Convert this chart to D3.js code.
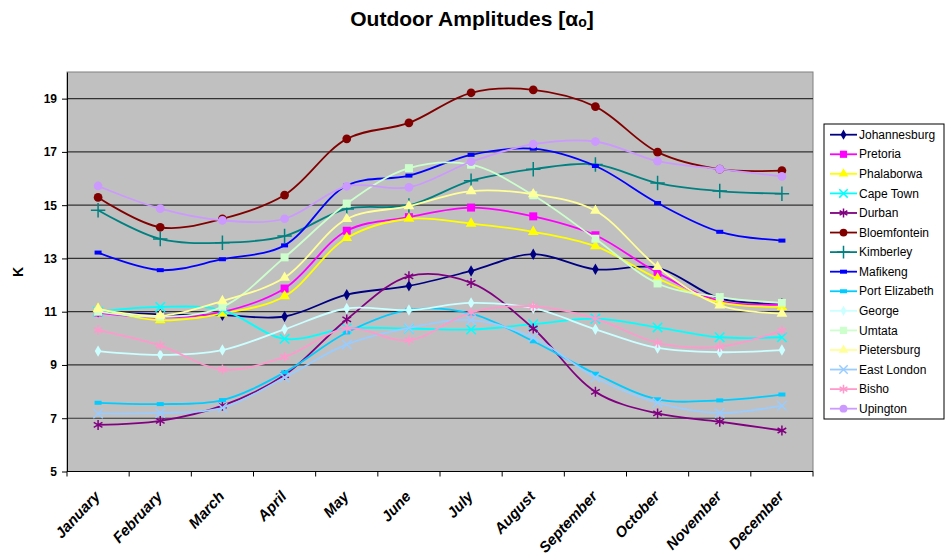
<!DOCTYPE html>
<html><head><meta charset="utf-8">
<script src="https://cdn.jsdelivr.net/npm/d3@7"></script>
<style>body{margin:0;background:#fff}svg{display:block;font-family:"Liberation Sans",Arial,sans-serif}</style>
</head><body>
<svg id="c" width="945" height="557"></svg>
<script>
const months = ["January","February","March","April","May","June","July","August","September","October","November","December"];
const cities = ["Johannesburg","Pretoria","Phalaborwa","Cape Town","Durban","Bloemfontein","Kimberley","Mafikeng","Port Elizabeth","George","Umtata","Pietersburg","East London","Bisho","Upington"];
const colors = ["#000080","#FF00FF","#FFFF00","#00FFFF","#800080","#800000","#008080","#0000FF","#00CCFF","#CCFFFF","#CCFFCC","#FFFF99","#99CCFF","#FF99CC","#CC99FF"];
const markers = ["diamond","square","triangle","x","asterisk","circle","plus","dash","dash","diamond","square","triangle","x","asterisk","circle"];
const johannesburg = [11.0,10.9,10.87,10.82,11.64,11.97,12.53,13.16,12.59,12.65,11.5,11.3];
const pretoria = [10.97,10.78,10.99,11.87,14.04,14.55,14.91,14.58,13.87,12.46,11.40,11.27];
const phalaborwa = [11.12,10.68,10.93,11.58,13.77,14.49,14.31,14.0,13.46,12.25,11.35,11.18];
const capeTown = [11.0,11.18,11.06,9.98,10.37,10.37,10.33,10.53,10.74,10.41,10.04,10.04];
const durban = [6.75,6.90,7.47,8.62,10.71,12.33,12.08,10.37,7.99,7.18,6.87,6.54];
const bloemfontein = [15.29,14.17,14.49,15.38,17.49,18.09,19.22,19.33,18.70,16.99,16.35,16.30];
const kimberley = [14.81,13.73,13.59,13.84,14.86,14.99,15.92,16.35,16.53,15.83,15.53,15.43];
const mafikeng = [13.22,12.56,12.97,13.49,15.74,16.11,16.89,17.12,16.47,15.08,14.0,13.67];
const portElizabeth = [7.58,7.53,7.68,8.72,10.22,11.07,10.93,9.89,8.67,7.71,7.67,7.89];
const george = [9.52,9.38,9.56,10.34,11.12,11.06,11.33,11.13,10.34,9.64,9.48,9.56];
const umtata = [11.0,10.8,11.18,13.04,15.06,16.39,16.52,15.37,13.74,12.06,11.55,11.33];
const pietersburg = [11.1,10.85,11.4,12.28,14.48,14.96,15.53,15.41,14.79,12.68,11.24,10.93];
const eastLondon = [7.18,7.2,7.39,8.53,9.77,10.39,10.68,10.03,8.53,7.58,7.2,7.47];
const bisho = [10.31,9.73,8.83,9.30,10.37,9.93,10.97,11.2,10.74,9.83,9.68,10.29];
const upington = [15.72,14.87,14.43,14.49,15.71,15.67,16.63,17.29,17.39,16.65,16.35,16.08];
const series = [johannesburg,pretoria,phalaborwa,capeTown,durban,bloemfontein,kimberley,mafikeng,portElizabeth,george,umtata,pietersburg,eastLondon,bisho,upington];
const yTicks = [5,7,9,11,13,15,17,19];

const svg = d3.select("#c");
const L=67,R=813,T=72,B=471.5;
const x = d3.scaleBand().domain(months).range([L,R]).padding(0);
const xc = m => x(m)+x.bandwidth()/2;
const y = d3.scaleLinear().domain([5,20]).range([B,T]);

svg.append("rect").attr("x",L).attr("y",T).attr("width",R-L).attr("height",B-T).attr("fill","#C0C0C0").attr("stroke","#808080").attr("stroke-width",1);
svg.selectAll(".grid").data(yTicks.filter(d=>d>5)).join("line")
  .attr("x1",L).attr("x2",R).attr("y1",d=>y(d)).attr("y2",d=>y(d)).attr("stroke","#333").attr("stroke-width",1.2);

// y axis
const ya = svg.append("g").attr("transform",`translate(${L},0)`).call(d3.axisLeft(y).tickValues(yTicks).tickSize(5).tickSizeOuter(0));
ya.select(".domain").attr("stroke","#000");
ya.selectAll("text").attr("font-size",12).attr("font-weight","bold").attr("font-family","Liberation Sans, Arial").attr("fill","#000").attr("x",-10);
// x axis
svg.append("line").attr("x1",L).attr("x2",R).attr("y1",B).attr("y2",B).attr("stroke","#000");
const bounds = months.map(m=>x(m)).concat([R]);
svg.selectAll(".xt").data(bounds).join("line").attr("x1",d=>d).attr("x2",d=>d).attr("y1",B).attr("y2",B+5).attr("stroke","#000");
svg.selectAll(".xl").data(months).join("text")
  .attr("transform",d=>`translate(${xc(d)-1},${B+22}) rotate(-47)`)
  .attr("text-anchor","end").attr("dy","0.35em")
  .attr("font-size",15).attr("font-weight","bold").attr("font-style","italic").text(d=>d);

// title
const t = svg.append("text").attr("x",472).attr("y",26).attr("text-anchor","middle").attr("font-size",21).attr("font-weight","bold");
t.append("tspan").text("Outdoor Amplitudes [α");
t.append("tspan").attr("font-size",14).attr("dy",1).text("o");
t.append("tspan").attr("dy",-1).text("]");
svg.append("text").attr("transform","translate(23,272) rotate(-90)").attr("text-anchor","middle").attr("font-size",14).attr("font-weight","bold").text("K");

function marker(g, type, color, cx, cy, s){
  const sym = {diamond:d3.symbolDiamond,square:d3.symbolSquare,triangle:d3.symbolTriangle,circle:d3.symbolCircle,x:d3.symbolX,plus:d3.symbolPlus,asterisk:d3.symbolAsterisk};
  if(type==="dash"){
    g.append("rect").attr("x",cx-3.5).attr("y",cy-2).attr("width",7).attr("height",4).attr("fill",color);return;
  }
  const size = {diamond:38,square:64,triangle:50,circle:60,x:60,plus:70,asterisk:70}[type]*s;
  const p = g.append("path").attr("transform",`translate(${cx},${cy})`).attr("d",d3.symbol().type(sym[type]).size(size)());
  if(["x","plus","asterisk"].includes(type)) p.attr("fill","none").attr("stroke",color).attr("stroke-width",1.5);
  else p.attr("fill",color);
}

const line = d3.line().x((d,i)=>xc(months[i])).y(d=>y(d)).curve(d3.curveCatmullRom.alpha(0.5));
series.forEach((vals,k)=>{
  const g = svg.append("g");
  g.append("path").attr("d",line(vals)).attr("fill","none").attr("stroke",colors[k]).attr("stroke-width",1.8);
  vals.forEach((v,i)=>marker(g,markers[k],colors[k],xc(months[i]),y(v),1));
});

// legend
const lg = svg.append("g");
lg.append("rect").attr("x",824).attr("y",124).attr("width",120).attr("height",295).attr("fill","#fff").attr("stroke","#000");
cities.forEach((c,k)=>{
  const yy = 134.7 + k*19.57;
  lg.append("line").attr("x1",830).attr("x2",857).attr("y1",yy).attr("y2",yy).attr("stroke",colors[k]).attr("stroke-width",1.8);
  marker(lg,markers[k],colors[k],843.5,yy,0.8);
  lg.append("text").attr("x",859).attr("y",yy).attr("dy","0.35em").attr("font-size",12).text(c);
});
</script>
</body></html>
